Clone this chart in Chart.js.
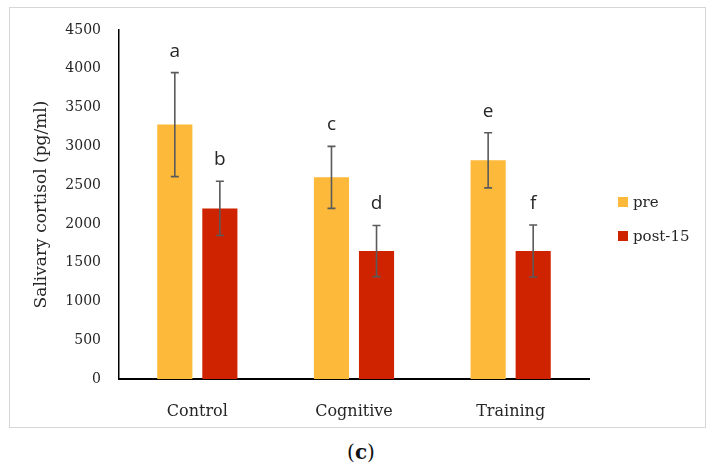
<!DOCTYPE html>
<html>
<head>
<meta charset="utf-8">
<script src="https://cdn.jsdelivr.net/npm/chart.js@4/dist/chart.umd.min.js"></script>
<style>
  body { margin: 0; background: #fff; }
  #frame { position: absolute; left: 9px; top: 7px; width: 697px; height: 421px; border: 1.5px solid #d6d6d6; box-sizing: border-box; }
  #chart { position: absolute; left: 0; top: 0; }
  #legend { position: absolute; left: 618px; top: 193px; font-family: "DejaVu Serif"; font-size: 15px; color: #262626; }
  #legend div { height: 34px; display: flex; align-items: flex-start; }
  #legend span.box { display: inline-block; width: 10px; height: 10px; margin: 4px 5px 0 0; }
  #cap { position: absolute; left: 0; top: 440px; width: 722px; text-align: center; font-family: "DejaVu Serif"; font-size: 20px; color: #111; }
</style>
</head>
<body>
<div id="frame"></div>
<canvas id="chart" width="717" height="432"></canvas>
<div id="legend"></div>
<div id="cap">(<b>c</b>)</div>
<script>
// data
const groups = ['Control', 'Cognitive', 'Training'];
const seriesNames = ['pre', 'post-15'];
const preValues = [3280, 2600, 2820];
const postValues = [2200, 1650, 1650];
const preErrors = [670, 400, 355];
const postErrors = [350, 330, 335];
const preLetters = ['a', 'c', 'e'];
const postLetters = ['b', 'd', 'f'];
const yTicks = [0, 500, 1000, 1500, 2000, 2500, 3000, 3500, 4000, 4500];

const colors = ['#fdb93a', '#cf2300'];
const errors = [preErrors, postErrors];
const letters = [preLetters, postLetters];

// error bars + significance letters
const errorBars = {
    id: 'errorBars',
    afterDatasetsDraw(chart) {
        const ctx = chart.ctx;
        const y = chart.scales.y;
        ctx.save();
        chart.data.datasets.forEach((ds, i) => {
            const meta = chart.getDatasetMeta(i);
            meta.data.forEach((bar, j) => {
                const v = ds.data[j];
                const e = errors[i][j];
                const top = y.getPixelForValue(v + e);
                const bot = y.getPixelForValue(v - e);
                ctx.strokeStyle = '#5a5a5a';
                ctx.lineWidth = 1.6;
                ctx.beginPath();
                ctx.moveTo(bar.x, top); ctx.lineTo(bar.x, bot);
                ctx.moveTo(bar.x - 4, top); ctx.lineTo(bar.x + 4, top);
                ctx.moveTo(bar.x - 4, bot); ctx.lineTo(bar.x + 4, bot);
                ctx.stroke();
                ctx.fillStyle = '#262626';
                ctx.font = '19px "Open Sans"';
                ctx.textAlign = 'center';
                ctx.textBaseline = 'alphabetic';
                ctx.fillText(letters[i][j], bar.x, top - 16);
            });
        });
        ctx.restore();
    }
};

new Chart(document.getElementById('chart'), {
    type: 'bar',
    data: {
        labels: groups,
        datasets: [{
            label: seriesNames[0],
            data: preValues,
            backgroundColor: colors[0]
        }, {
            label: seriesNames[1],
            data: postValues,
            backgroundColor: colors[1]
        }]
    },
    options: {
        responsive: false,
        animation: false,
        categoryPercentage: 0.575,
        barPercentage: 0.78,
        layout: { padding: { left: 0, right: 128, top: 30, bottom: 0 } },
        plugins: {
            legend: { display: false },
            tooltip: { enabled: false }
        },
        scales: {
            x: {
                grid: { display: false },
                border: { color: '#000', width: 2 },
                ticks: { color: '#262626', font: { family: 'DejaVu Serif', size: 16 }, padding: 15 },
                afterFit(s) { s.height = 53; }
            },
            y: {
                min: 0,
                max: 4500,
                afterBuildTicks(s) { s.ticks = yTicks.map(v => ({ value: v })); },
                grid: { display: false },
                border: { color: '#000', width: 1.5 },
                ticks: {
                    color: '#262626',
                    font: { family: 'DejaVu Serif', size: 14 },
                    padding: 10,
                    callback: v => String(v)
                },
                title: {
                    display: true,
                    text: 'Salivary cortisol (pg/ml)',
                    color: '#262626',
                    font: { family: 'DejaVu Serif', size: 17 },
                    padding: { top: 31, bottom: 0 }
                },
                afterFit(s) { s.width = 119; }
            }
        }
    },
    plugins: [errorBars]
});

// legend
const legend = document.getElementById('legend');
seriesNames.forEach((name, i) => {
    const row = document.createElement('div');
    const box = document.createElement('span');
    box.className = 'box';
    box.style.background = colors[i];
    row.appendChild(box);
    row.appendChild(document.createTextNode(name));
    legend.appendChild(row);
});
</script>
</body>
</html>
